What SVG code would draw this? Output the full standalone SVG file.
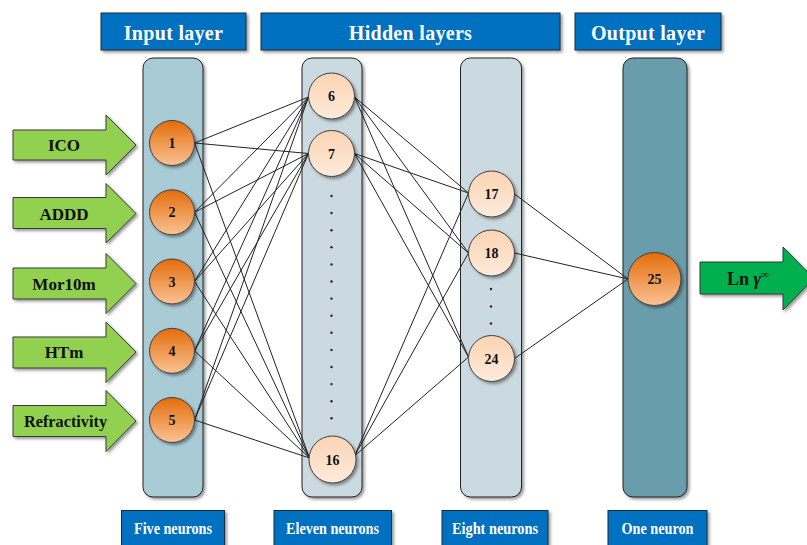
<svg xmlns="http://www.w3.org/2000/svg" width="807" height="545" viewBox="0 0 807 545">
<defs>
<filter id="sh" x="-20%" y="-20%" width="140%" height="140%">
<feDropShadow dx="2" dy="2" stdDeviation="1.5" flood-color="#000" flood-opacity="0.4"/>
</filter>
<linearGradient id="gOr" x1="0" y1="0" x2="0" y2="1">
<stop offset="0" stop-color="#E36C0A"/>
<stop offset="1" stop-color="#FAC394"/>
</linearGradient>
<linearGradient id="gPe" x1="0" y1="0" x2="0" y2="1">
<stop offset="0" stop-color="#FBD3B2"/>
<stop offset="1" stop-color="#FDEBDC"/>
</linearGradient>
<style>
.hdr{fill:#0070C0;stroke:#1e2b3a;stroke-width:1;filter:url(#sh)}
.hdrt{font-family:"Liberation Serif",serif;font-weight:bold;font-size:20px;fill:#fff;text-anchor:middle;letter-spacing:0.3px}
.bot{font-family:"Liberation Serif",serif;font-weight:bold;font-size:17px;fill:#fff;text-anchor:middle}
.col{stroke:#222;stroke-width:1;filter:url(#sh)}
.inarr{fill:#92D050;stroke:#3a3a3a;stroke-width:1;filter:url(#sh)}
.outarr{fill:#00B050;stroke:#3a3a3a;stroke-width:1;filter:url(#sh)}
.lbl{font-family:"Liberation Serif",serif;font-weight:bold;font-size:17px;fill:#111;text-anchor:middle}
.nin{fill:url(#gOr);stroke:#404040;stroke-width:1;filter:url(#sh)}
.nh{fill:url(#gPe);stroke:#404040;stroke-width:1;filter:url(#sh)}
.num{font-family:"Liberation Serif",serif;font-weight:bold;font-size:14px;fill:#111;text-anchor:middle}
.con line{stroke:#222;stroke-width:1}
.dot{fill:#222}
</style>
</defs>
<rect width="807" height="545" fill="#fff"/>

<!-- headers -->
<g id="hdr-input"><rect class="hdr" x="101" y="13" width="145" height="37"/><text class="hdrt" x="173.5" y="40">Input layer</text></g>
<g id="hdr-hidden"><rect class="hdr" x="261" y="13" width="299" height="37"/><text class="hdrt" x="410.5" y="40">Hidden layers</text></g>
<g id="hdr-output"><rect class="hdr" x="575" y="13" width="146" height="37"/><text class="hdrt" x="648" y="40">Output layer</text></g>

<!-- columns -->
<g id="col-input"><rect class="col" x="143" y="58" width="60" height="439" rx="10" fill="#A9CBD6"/></g>
<g id="col-hidden1"><rect class="col" x="302" y="58" width="60" height="439" rx="10" fill="#CADAE0"/></g>
<g id="col-hidden2"><rect class="col" x="460.5" y="58" width="61" height="439" rx="10" fill="#CADAE0"/></g>
<g id="col-output"><rect class="col" x="623" y="58" width="64" height="439" rx="10" fill="#6A9DAB"/></g>

<!-- bottom labels -->
<g id="bot-five"><rect class="hdr" x="121.5" y="510.5" width="103" height="42"/><text class="bot" x="173" y="534" textLength="78" lengthAdjust="spacingAndGlyphs">Five neurons</text></g>
<g id="bot-eleven"><rect class="hdr" x="274" y="510.5" width="117.5" height="42"/><text class="bot" x="332.5" y="534" textLength="93" lengthAdjust="spacingAndGlyphs">Eleven neurons</text></g>
<g id="bot-eight"><rect class="hdr" x="442" y="510.5" width="106" height="42"/><text class="bot" x="495" y="534" textLength="86" lengthAdjust="spacingAndGlyphs">Eight neurons</text></g>
<g id="bot-one"><rect class="hdr" x="608" y="510.5" width="99" height="42"/><text class="bot" x="657.5" y="534" textLength="72" lengthAdjust="spacingAndGlyphs">One neuron</text></g>

<!-- input arrows -->
<g id="arr-ico"><path class="inarr" d="M13,130 H106 V115 L136,145 L106,175 V160 H13 Z"/><text class="lbl" x="64" y="151">ICO</text></g>
<g id="arr-addd"><path class="inarr" d="M13,197.5 H106 V183.5 L136,213.5 L106,243 V228.5 H13 Z"/><text class="lbl" x="64" y="219.5">ADDD</text></g>
<g id="arr-mor10m"><path class="inarr" d="M13,268 H106 V253.5 L136,283.5 L106,313.5 V299 H13 Z"/><text class="lbl" x="64" y="289.5">Mor10m</text></g>
<g id="arr-htm"><path class="inarr" d="M13,337 H106 V322 L136,352 L106,382.5 V368 H13 Z"/><text class="lbl" x="64" y="358">HTm</text></g>
<g id="arr-refr"><path class="inarr" d="M13,405.5 H106 V390.5 L136,421 L106,451.5 V436.5 H13 Z"/><text class="lbl" x="65.5" y="427" textLength="83" lengthAdjust="spacingAndGlyphs">Refractivity</text></g>

<!-- output arrow -->
<g id="arr-out"><path class="outarr" d="M700,262 H783 V247 L814,278.5 L783,310 V294 H700 Z"/><text class="lbl" x="727" y="284.5" style="text-anchor:start;font-size:18px">Ln <tspan font-style="italic">γ</tspan><tspan font-size="11" dy="-7">∞</tspan></text></g>

<!-- connectors -->
<g id="connectors" class="con">
<line x1="194.5" y1="143" x2="308.5" y2="97"/>
<line x1="194.5" y1="143" x2="308.5" y2="153.5"/>
<line x1="194.5" y1="143" x2="309.5" y2="458"/>
<line x1="194.5" y1="212.3" x2="308.5" y2="97"/>
<line x1="194.5" y1="212.3" x2="308.5" y2="153.5"/>
<line x1="194.5" y1="212.3" x2="309.5" y2="458"/>
<line x1="194.5" y1="281.5" x2="308.5" y2="97"/>
<line x1="194.5" y1="281.5" x2="308.5" y2="153.5"/>
<line x1="194.5" y1="281.5" x2="309.5" y2="458"/>
<line x1="194.5" y1="350.8" x2="308.5" y2="97"/>
<line x1="194.5" y1="350.8" x2="308.5" y2="153.5"/>
<line x1="194.5" y1="350.8" x2="309.5" y2="458"/>
<line x1="194.5" y1="420" x2="308.5" y2="97"/>
<line x1="194.5" y1="420" x2="308.5" y2="153.5"/>
<line x1="194.5" y1="420" x2="309.5" y2="458"/>
<line x1="354.5" y1="97" x2="468.5" y2="193"/>
<line x1="354.5" y1="97" x2="468.5" y2="253"/>
<line x1="354.5" y1="97" x2="468.5" y2="357"/>
<line x1="354.5" y1="153.5" x2="468.5" y2="193"/>
<line x1="354.5" y1="153.5" x2="468.5" y2="253"/>
<line x1="354.5" y1="153.5" x2="468.5" y2="357"/>
<line x1="354.5" y1="456" x2="468.5" y2="193"/>
<line x1="354.5" y1="456" x2="468.5" y2="253"/>
<line x1="354.5" y1="456" x2="468.5" y2="357"/>
<line x1="514.5" y1="194" x2="628" y2="279"/>
<line x1="514.5" y1="253" x2="628" y2="279"/>
<line x1="514.5" y1="358.5" x2="628" y2="279"/>
</g>

<!-- dots -->
<g id="dots-hidden1" class="dot">
<circle cx="331.5" cy="196" r="1.2"/><circle cx="331.5" cy="213" r="1.2"/><circle cx="331.5" cy="230.2" r="1.2"/><circle cx="331.5" cy="247.3" r="1.2"/><circle cx="331.5" cy="264.4" r="1.2"/><circle cx="331.5" cy="281.5" r="1.2"/><circle cx="331.5" cy="298.6" r="1.2"/><circle cx="331.5" cy="315.7" r="1.2"/><circle cx="331.5" cy="332.8" r="1.2"/><circle cx="331.5" cy="349.9" r="1.2"/><circle cx="331.5" cy="367" r="1.2"/><circle cx="331.5" cy="384.1" r="1.2"/><circle cx="331.5" cy="401.2" r="1.2"/><circle cx="331.5" cy="418.3" r="1.2"/>
</g>
<g id="dots-hidden2" class="dot">
<circle cx="491" cy="289" r="1.2"/><circle cx="491" cy="306.5" r="1.2"/><circle cx="491" cy="323.5" r="1.2"/>
</g>

<!-- nodes -->
<g id="n1"><circle class="nin" cx="172" cy="143" r="22.5"/><text class="num" x="172" y="148">1</text></g>
<g id="n2"><circle class="nin" cx="172" cy="212.3" r="22.5"/><text class="num" x="172" y="217.3">2</text></g>
<g id="n3"><circle class="nin" cx="172" cy="281.5" r="22.5"/><text class="num" x="172" y="286.5">3</text></g>
<g id="n4"><circle class="nin" cx="172" cy="350.8" r="22.5"/><text class="num" x="172" y="355.8">4</text></g>
<g id="n5"><circle class="nin" cx="172" cy="420" r="22.5"/><text class="num" x="172" y="425">5</text></g>
<g id="n6"><circle class="nh" cx="331.5" cy="96" r="23"/><text class="num" x="331.5" y="101">6</text></g>
<g id="n7"><circle class="nh" cx="331.5" cy="153.5" r="23"/><text class="num" x="331.5" y="158.5">7</text></g>
<g id="n16"><circle class="nh" cx="332.5" cy="459.5" r="23.5"/><text class="num" x="332.5" y="464.5">16</text></g>
<g id="n17"><circle class="nh" cx="491.5" cy="194" r="23"/><text class="num" x="491.5" y="199">17</text></g>
<g id="n18"><circle class="nh" cx="491.5" cy="253" r="23"/><text class="num" x="491.5" y="258">18</text></g>
<g id="n24"><circle class="nh" cx="491.5" cy="358.5" r="23"/><text class="num" x="491.5" y="363.5">24</text></g>
<g id="n25"><circle class="nin" cx="654.5" cy="279" r="26.5"/><text class="num" x="654.5" y="284">25</text></g>
</svg>
